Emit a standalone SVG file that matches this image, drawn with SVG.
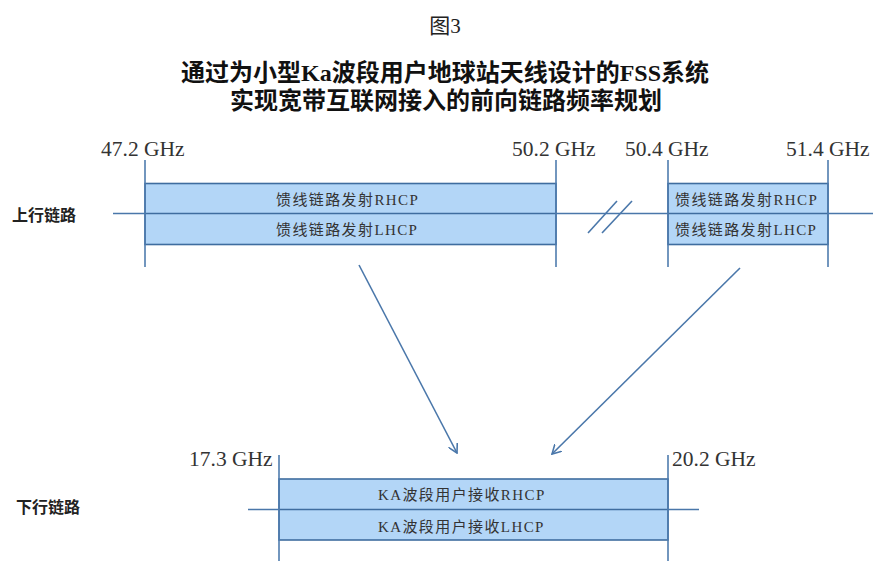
<svg xmlns="http://www.w3.org/2000/svg" width="873" height="561" viewBox="0 0 873 561">
<defs>
<style>
.title{font-family:"Liberation Serif","Noto Sans CJK SC",serif;font-weight:bold;font-size:24px;fill:#111;text-anchor:middle}
.fig{font-family:"Liberation Serif","Noto Sans CJK SC",serif;font-size:21px;fill:#222;text-anchor:middle}
.freq{font-family:"Liberation Serif",serif;font-size:21.5px;fill:#333}
.side{font-family:"Liberation Serif","Noto Sans CJK SC",serif;font-weight:bold;font-size:16px;fill:#222}
.band{font-family:"Liberation Serif","Noto Sans CJK SC",serif;font-size:15px;fill:#333;letter-spacing:1.4px}
.tick{stroke:#4f7cae;stroke-width:1.6;fill:none}
.axis{stroke:#4a77aa;stroke-width:1.6;fill:none}
.box{fill:#b3d6f7;stroke:#3f6d9f;stroke-width:1.6}
.arrow{stroke:#4a77aa;stroke-width:1.6;fill:none;marker-end:url(#ah)}
</style>
<marker id="ah" viewBox="0 0 10 10" refX="9" refY="5" markerWidth="10" markerHeight="10" markerUnits="userSpaceOnUse" orient="auto">
<path d="M0,0 L9,5 L0,10" fill="none" stroke="#4a77aa" stroke-width="1.6"/>
</marker>
</defs>
<rect width="873" height="561" fill="#fff"/>
<g id="titles">
<text class="fig" x="445" y="33">图3</text>
<text class="title" x="445" y="81">通过为小型Ka波段用户地球站天线设计的FSS系统</text>
<text class="title" x="446" y="109">实现宽带互联网接入的前向链路频率规划</text>
</g>
<g id="uplink-label"><text class="side" x="12" y="221">上行链路</text></g>
<g id="downlink-label"><text class="side" x="16" y="513">下行链路</text></g>
<g id="uplink-axis">
<line class="axis" x1="113" y1="213.5" x2="873" y2="213.5"/>
<line class="axis" x1="588" y1="233" x2="617" y2="201"/>
<line class="axis" x1="602" y1="233" x2="632" y2="201"/>
</g>
<g id="uplink-band1">
<rect class="box" x="145" y="183.5" width="411" height="61"/>
<line class="box" x1="145" y1="213.5" x2="556" y2="213.5"/>
<line class="tick" x1="145" y1="160" x2="145" y2="267"/>
<line class="tick" x1="556" y1="160" x2="556" y2="267"/>
<text class="freq" x="101" y="156">47.2 GHz</text>
<text class="freq" x="512" y="156">50.2 GHz</text>
<text class="band" x="276" y="205">馈线链路发射RHCP</text>
<text class="band" x="276" y="235">馈线链路发射LHCP</text>
</g>
<g id="uplink-band2">
<rect class="box" x="668" y="183.5" width="160" height="61"/>
<line class="box" x1="668" y1="213.5" x2="828" y2="213.5"/>
<line class="tick" x1="668" y1="160" x2="668" y2="267"/>
<line class="tick" x1="828" y1="160" x2="828" y2="267"/>
<text class="freq" x="625" y="156">50.4 GHz</text>
<text class="freq" x="786" y="156">51.4 GHz</text>
<text class="band" x="675" y="205">馈线链路发射RHCP</text>
<text class="band" x="675" y="235">馈线链路发射LHCP</text>
</g>
<g id="downlink-band">
<line class="axis" x1="248" y1="509.5" x2="699" y2="509.5"/>
<rect class="box" x="279" y="479" width="389" height="61"/>
<line class="box" x1="279" y1="509.5" x2="668" y2="509.5"/>
<line class="tick" x1="279" y1="455" x2="279" y2="561"/>
<line class="tick" x1="668" y1="455" x2="668" y2="561"/>
<text class="freq" x="189" y="466">17.3 GHz</text>
<text class="freq" x="672" y="466">20.2 GHz</text>
<text class="band" x="378" y="500">KA波段用户接收RHCP</text>
<text class="band" x="378" y="532">KA波段用户接收LHCP</text>
</g>
<g id="connectors">
<line class="arrow" x1="359" y1="265" x2="457" y2="453"/>
<line class="arrow" x1="740" y1="268" x2="552" y2="454"/>
</g>
</svg>
